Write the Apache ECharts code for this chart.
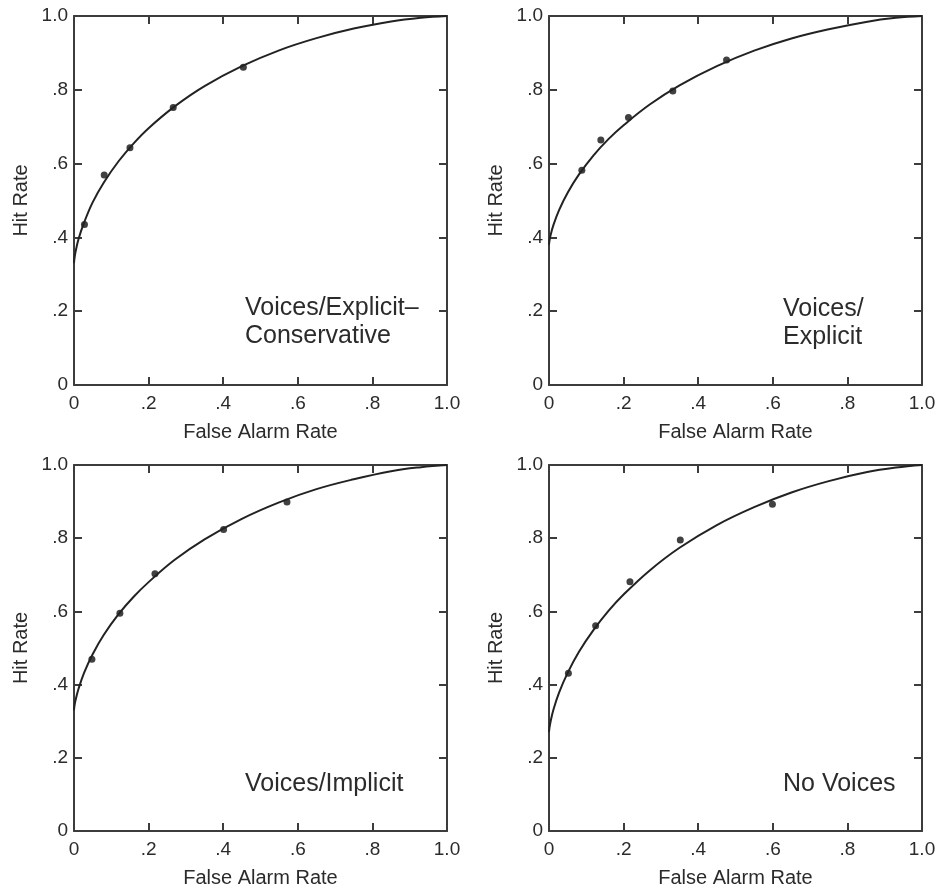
<!DOCTYPE html>
<html>
<head>
<meta charset="utf-8">
<title>ROC curves</title>
<script src="https://cdn.jsdelivr.net/npm/echarts@6/dist/echarts.min.js"></script>
<style>
    html, body { margin: 0; padding: 0; background: #fff; }
    #chart { width: 940px; height: 889px; }
</style>
</head>
<body>
<div id="chart"></div>
<script>
(function () {
    "use strict";

    // panel titles (bottom-right annotation)
    var panelNames = ['Voices/Explicit\u2013\nConservative', 'Voices/\nExplicit', 'Voices/Implicit', 'No Voices'];

    // fitted curve, read along the x axis
    var curveX = [0, 0.001, 0.004, 0.012, 0.027, 0.05, 0.08, 0.12, 0.16, 0.2, 0.27, 0.35, 0.45, 0.55, 0.65, 0.75, 0.85, 0.93, 1];
    var curveY1 = [0.33, 0.341, 0.36, 0.395, 0.44, 0.495, 0.549, 0.607, 0.655, 0.696, 0.755, 0.81, 0.864, 0.907, 0.94, 0.966, 0.985, 0.995, 1];
    var curveY2 = [0.38, 0.389, 0.405, 0.434, 0.474, 0.521, 0.57, 0.623, 0.667, 0.704, 0.76, 0.812, 0.864, 0.906, 0.939, 0.964, 0.984, 0.995, 1];
    var curveY3 = [0.33, 0.34, 0.357, 0.388, 0.432, 0.483, 0.536, 0.593, 0.64, 0.68, 0.741, 0.797, 0.853, 0.898, 0.934, 0.961, 0.983, 0.994, 1];
    var curveY4 = [0.27, 0.28, 0.298, 0.332, 0.378, 0.432, 0.489, 0.55, 0.602, 0.646, 0.712, 0.774, 0.836, 0.885, 0.925, 0.956, 0.98, 0.993, 1];

    // observed points (false alarm rate, hit rate)
    var faRate1 = [0.028, 0.081, 0.150, 0.266, 0.454];
    var hitRate1 = [0.435, 0.569, 0.643, 0.752, 0.861];
    var faRate2 = [0.088, 0.139, 0.213, 0.332, 0.476];
    var hitRate2 = [0.582, 0.664, 0.725, 0.797, 0.881];
    var faRate3 = [0.048, 0.123, 0.217, 0.401, 0.571];
    var hitRate3 = [0.469, 0.595, 0.703, 0.824, 0.899];
    var faRate4 = [0.052, 0.125, 0.217, 0.352, 0.599];
    var hitRate4 = [0.431, 0.561, 0.681, 0.795, 0.893];

    var curves = [curveY1, curveY2, curveY3, curveY4];
    var faRates = [faRate1, faRate2, faRate3, faRate4];
    var hitRates = [hitRate1, hitRate2, hitRate3, hitRate4];

    var grids = [
        {left: 74, top: 16, width: 373, height: 369},
        {left: 549, top: 16, width: 373, height: 369},
        {left: 74, top: 465, width: 373, height: 368},
        {left: 549, top: 465, width: 373, height: 368}
    ];
    // where the annotation starts, px
    var notePos = [[245, 294], [783, 295], [245, 770], [783, 770]];

    var FONT = 'Liberation Sans';
    var INK = '#2b2b2b';
    var FRAME = '#3c3c3c';

    function tickFmt(v) {
        if (v === 0) return '0';
        if (v >= 1) return '1.0';
        return '.' + Math.round(v * 10);
    }

    function pair(xs, ys) {
        var out = [];
        for (var i = 0; i < xs.length; i++) {
            out.push([xs[i], ys[i]]);
        }
        return out;
    }

    function axis(type, gi, pos, labelled) {
        var a = {
            type: 'value',
            gridIndex: gi,
            position: pos,
            min: 0,
            max: 1,
            interval: 0.2,
            splitLine: {show: false},
            axisLine: {show: true, onZero: false, lineStyle: {color: FRAME, width: 2}},
            axisTick: {show: true, inside: true, length: 8, lineStyle: {color: FRAME, width: 2}},
            axisLabel: {
                show: labelled,
                formatter: tickFmt,
                color: INK,
                fontFamily: FONT,
                fontSize: 19,
                margin: type === 'x' ? 9 : 6
            }
        };
        if (labelled) {
            a.name = type === 'x' ? 'False Alarm Rate' : 'Hit Rate';
            a.nameLocation = 'middle';
            a.nameGap = type === 'x' ? 37 : 43;
            a.nameTextStyle = {color: INK, fontFamily: FONT, fontSize: 20};
        }
        return a;
    }

    var xAxes = [], yAxes = [], series = [], graphics = [];
    for (var i = 0; i < 4; i++) {
        xAxes.push(axis('x', i, 'bottom', true));
        xAxes.push(axis('x', i, 'top', false));
        yAxes.push(axis('y', i, 'left', true));
        yAxes.push(axis('y', i, 'right', false));

        series.push({
            type: 'line',
            xAxisIndex: i * 2,
            yAxisIndex: i * 2,
            data: pair(curveX, curves[i]),
            smooth: 0.4,
            showSymbol: false,
            lineStyle: {color: '#222', width: 2},
            silent: true
        });
        series.push({
            type: 'scatter',
            xAxisIndex: i * 2,
            yAxisIndex: i * 2,
            data: pair(faRates[i], hitRates[i]),
            symbol: 'circle',
            symbolSize: 7,
            itemStyle: {color: '#111'},
            silent: true
        });

        graphics.push({
            type: 'text',
            x: notePos[i][0],
            y: notePos[i][1],
            style: {
                text: panelNames[i],
                fill: INK,
                font: '25px "' + FONT + '"',
                lineHeight: 28,
                verticalAlign: 'top'
            }
        });
    }

    var chart = echarts.init(document.getElementById('chart'), null, {renderer: 'canvas'});
    chart.setOption({
        animation: false,
        backgroundColor: '#fff',
        grid: grids,
        xAxis: xAxes,
        yAxis: yAxes,
        series: series,
        graphic: graphics
    });
}());
</script>
</body>
</html>
